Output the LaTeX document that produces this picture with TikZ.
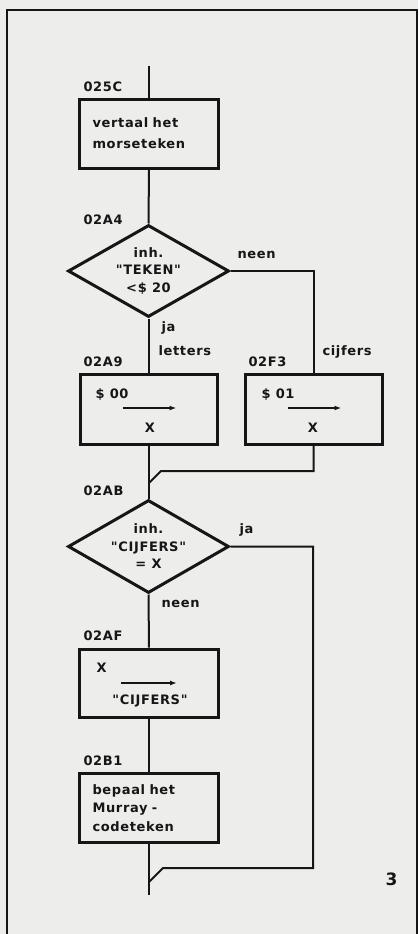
\documentclass[tikz,border=0pt]{standalone}
\usepackage{fontspec}
\setmainfont{DejaVu Sans}[LetterSpace=5, Ligatures=TeXOff]
\usepackage{xcolor}
\usepackage{tikz}
\usetikzlibrary{calc}
\usetikzlibrary{arrows.meta}
\usetikzlibrary{shapes.geometric}

\definecolor{paper}{HTML}{EDEEEC}
\definecolor{ink}{HTML}{161616}

\begin{document}
\begin{tikzpicture}[x=1pt, y=-1pt,
    every node/.style={font=\fontsize{13}{17.5}\selectfont\bfseries, text=ink},
    block/.style={draw=ink, line width=3pt, rectangle, minimum width=139pt,
        minimum height=69pt, inner sep=0pt},
    textblock/.style={block, align=left, text width=113pt, inner xsep=13pt},
    test/.style={draw=ink, line width=3pt, diamond, aspect=1.75, minimum width=161pt,
        minimum height=92pt, inner sep=0pt, align=center},
    addr/.style={anchor=base west},
    flow/.style={draw=ink, line width=2pt},
    move/.style={draw=ink, line width=1.8pt, -{Latex[length=7pt,width=5pt]}}
]
    % Page and frame
    \useasboundingbox (0,0) rectangle (418,934);
    \fill[paper] (0,0) rectangle (418,934);
    \draw[ink, line width=2pt] (7,934) -- (7,10) -- (417,10) -- (417,934);

    % Blocks and tests
    \node[textblock, font=\fontsize{13}{21}\selectfont\bfseries] (vertaal) at (149,133.5)
        {vertaal het\\morseteken};
    \node[test] (teken) at (148.5,271) {inh.\\"TEKEN"\\<\$ 20};
    \node[block, minimum width=137pt, minimum height=70pt] (letter) at (148.5,409) {};
    \node[block, minimum width=137pt, minimum height=70pt] (cijfer) at (313.5,409) {};
    \node[test, minimum height=93pt] (cijfertest) at (148.5,546.5) {inh.\\"CIJFERS"\\= X};
    \node[block, minimum height=68pt] (opslag) at (149,683) {};
    \node[textblock, font=\fontsize{13}{18.5}\selectfont\bfseries] (murray) at (149,808)
        {bepaal het\\Murray -\\codeteken};

    % Contents of the move blocks
    \node[anchor=base west] (letterval) at (92,398) {\$ 00};
    \draw[move] ([xshift=-26pt,yshift=1pt]letter.center) -- ++(54,0);
    \node (letterx) at (150,428) {X};

    \node[anchor=base west] (cijferval) at (258,398) {\$~01};
    \draw[move] ([xshift=-26pt,yshift=1pt]cijfer.center) -- ++(54,0);
    \node (cijferx) at (313,428) {X};

    \node[anchor=base west] (opslagx) at (93,672) {X};
    \draw[move] ([xshift=-28pt]opslag.center) -- ++(56,0);
    \node (opslagval) at (150,701) {"CIJFERS"};

    % Addresses
    \node[addr] (a025C) at (80,92) {025C};
    \node[addr] (a02A4) at (80,224) {02A4};
    \node[addr] (a02A9) at (80,366) {02A9};
    \node[addr] (a02F3) at (245,366) {02F3};
    \node[addr] (a02AB) at (80,495) {02AB};
    \node[addr] (a02AF) at (80,640) {02AF};
    \node[addr] (a02B1) at (80,765) {02B1};

    % Branch labels
    \node[addr] (tekenneen) at (234,258) {neen};
    \node[addr] (tekenja) at (158,331) {ja};
    \node[addr] (letters) at (155,355) {letters};
    \node[addr] (cijfers) at (319,355) {cijfers};
    \node[addr] (cijferja) at (236,533) {ja};
    \node[addr] (cijferneen) at (158,607) {neen};

    \node[anchor=base east, font=\fontsize{17}{17}\selectfont\bfseries] (fig) at (401,885) {3};

    % Connectors
    \coordinate (entry) at (149,66);
    \coordinate (merge1) at (149,483);
    \coordinate (ret) at (313,868);
    \coordinate (merge2) at (149,882);
    \coordinate (exit) at (149,895);

    \draw[flow] (entry) -- (vertaal.north);
    \draw[flow] (vertaal.south) -- (teken.north);
    \draw[flow] (teken.south) -- (letter.north);
    \draw[flow] (teken.east) -| (cijfer.north);
    \draw[flow] (letter.south) -- (cijfertest.north);
    \draw[flow] (cijfer.south) |- ($(merge1)+(12,-12)$) -- (merge1);
    \draw[flow] (cijfertest.south) -- (opslag.north);
    \draw[flow] (cijfertest.east) -| (ret) -- ($(merge2)+(14,-14)$) -- (merge2);
    \draw[flow] (opslag.south) -- (murray.north);
    \draw[flow] (murray.south) -- (exit);
\end{tikzpicture}
\end{document}
